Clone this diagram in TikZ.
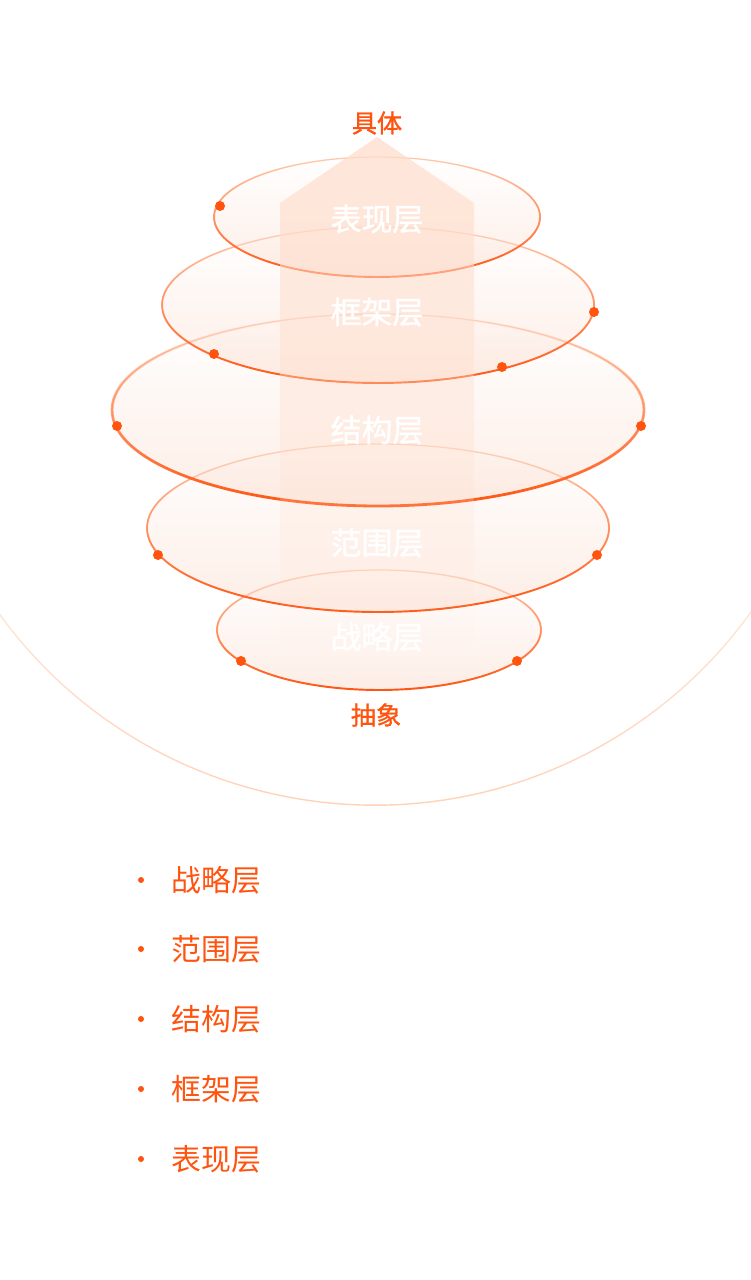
\documentclass[tikz,border=0pt]{standalone}
\usepackage{fontspec}
\setmainfont{Noto Sans CJK SC}
\newfontfamily\heavycjk{Noto Sans CJK SC}[FakeBold=1.2]
\usetikzlibrary{fadings}

\definecolor{deeporange}{HTML}{FF5410}
\definecolor{rimpeach}{HTML}{FFCBAE}
\definecolor{fillpeach}{HTML}{FBDCCD}
\definecolor{arrowpeach}{HTML}{FFDCCB}

\tikzfading[name=arrowfade, top color=transparent!0, middle color=transparent!10, bottom color=transparent!100]

\begin{document}
\begin{tikzpicture}[x=0.02cm, y=-0.02cm, every node/.style={font=\fontsize{17pt}{20pt}\selectfont},
    layerfill/.style={fill=fillpeach, fill opacity=0.5, path fading=north},
    layerrim/.style={draw=rimpeach, line width=0.7pt},
    layerlow/.style={draw=deeporange, line width=1.1pt, path fading=north},
    layerdot/.style={fill=deeporange},
    layerlabel/.style={text=white, font=\heavycjk\fontsize{17.6pt}{20pt}\selectfont},
    endlabel/.style={text=deeporange, font=\heavycjk\fontsize{14.3pt}{16pt}\selectfont},
    listitem/.style={text=deeporange, anchor=west, inner sep=0pt}]
  \useasboundingbox (0,0) rectangle (750,1280);

  % Outer arc
  \draw[rimpeach, line width=0.8pt, path fading=north] (375,341) ++(150:464) arc[start angle=150, end angle=30, radius=464];

  % Strategy
  \fill[layerfill] (379,630) ellipse (162 and 60);
  \draw[layerrim] (379,630) ellipse (162 and 60);
  \draw[layerlow] (379,630) ellipse (162 and 60);
  \fill[layerdot] (241,661) circle (5);
  \fill[layerdot] (517,661) circle (5);

  % Scope
  \fill[layerfill] (378,528) ellipse (231 and 84);
  \draw[layerrim] (378,528) ellipse (231 and 84);
  \draw[layerlow] (378,528) ellipse (231 and 84);
  \fill[layerdot] (158,555) circle (5);
  \fill[layerdot] (597,555) circle (5);

  % Structure
  \fill[layerfill] (378,410) ellipse (266 and 96);
  \draw[layerrim] (378,410) ellipse (266 and 96);
  \draw[layerlow, line width=1.6pt] (378,410) ellipse (266 and 96);
  \fill[layerdot] (117,426) circle (5);
  \fill[layerdot] (641,426) circle (5);

  % Skeleton
  \fill[layerfill] (378,305) ellipse (216 and 78);
  \draw[layerrim] (378,305) ellipse (216 and 78);
  \draw[layerlow] (378,305) ellipse (216 and 78);
  \fill[layerdot] (214,354) circle (5);
  \fill[layerdot] (502,367) circle (5);
  \fill[layerdot] (594,312) circle (5);

  % Surface
  \fill[layerfill] (377,217) ellipse (163 and 60);
  \draw[layerrim] (377,217) ellipse (163 and 60);
  \draw[layerlow] (377,217) ellipse (163 and 60);
  \fill[layerdot] (220,206) circle (5);

  % Arrow
  \fill[arrowpeach, fill opacity=0.75, path fading=arrowfade] (377,137) -- (474,203) -- (474,660) -- (280,660) -- (280,203) -- cycle;

  % Layer names
  \node[layerlabel] (surface) at (377,219) {表现层};
  \node[layerlabel] (skeleton) at (377,312) {框架层};
  \node[layerlabel] (structure) at (377,430) {结构层};
  \node[layerlabel] (scope) at (377,543) {范围层};
  \node[layerlabel] (strategy) at (377,637) {战略层};

  % Ends
  \node[endlabel] (concrete) at (377,123) {具体};
  \node[endlabel] (abstract) at (376,715) {抽象};

  % List
  \fill[deeporange] (141,880) circle (3);
  \node[listitem] (strategyitem) at (171,880) {战略层};
  \fill[deeporange] (141,949) circle (3);
  \node[listitem] (scopeitem) at (171,949) {范围层};
  \fill[deeporange] (141,1019) circle (3);
  \node[listitem] (structureitem) at (171,1019) {结构层};
  \fill[deeporange] (141,1089) circle (3);
  \node[listitem] (skeletonitem) at (171,1089) {框架层};
  \fill[deeporange] (141,1159) circle (3);
  \node[listitem] (surfaceitem) at (171,1159) {表现层};
\end{tikzpicture}
\end{document}
